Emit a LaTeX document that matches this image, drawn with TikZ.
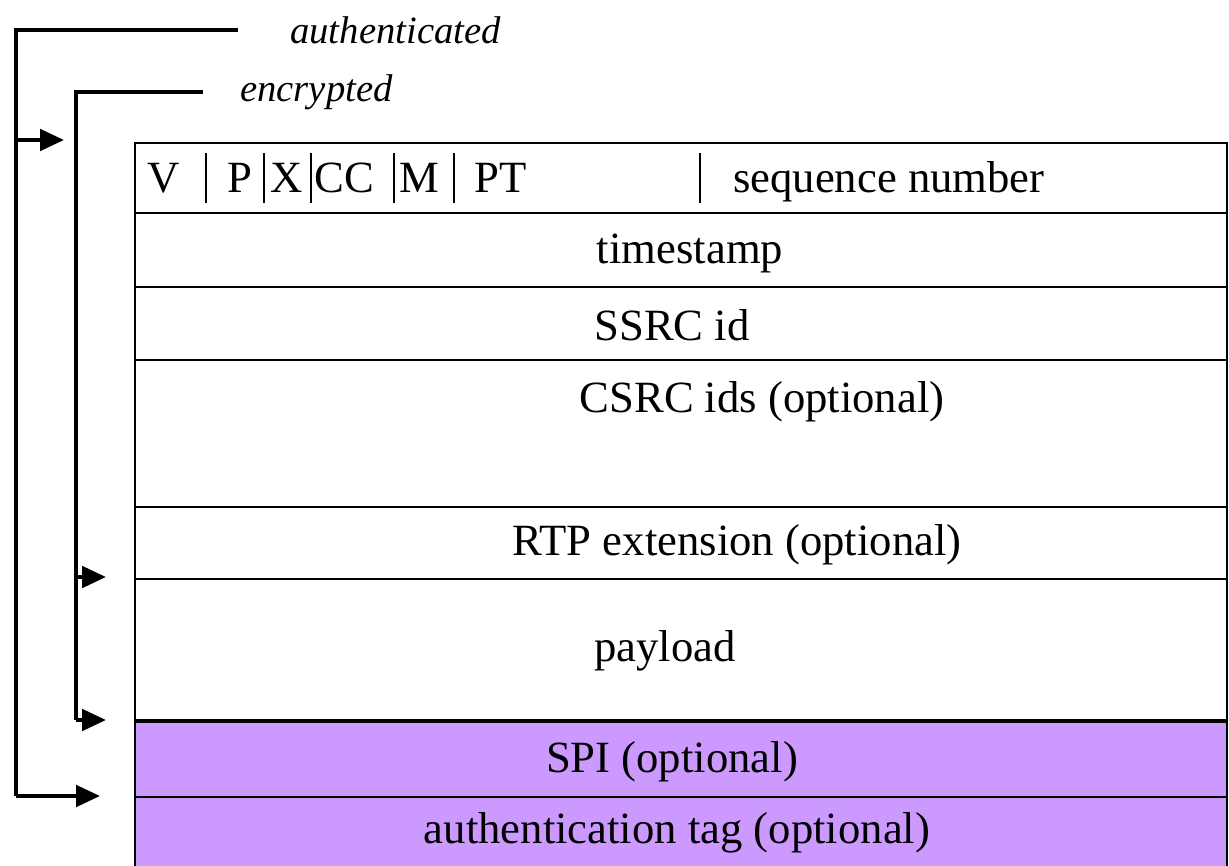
\documentclass[tikz,border=0pt]{standalone}
\usepackage{fontspec}
\setmainfont{Liberation Serif}
\usetikzlibrary{arrows.meta}
\definecolor{tagfill}{HTML}{CC99FF}
\begin{document}
\begin{tikzpicture}[x=0.75pt,y=-0.75pt,
  field/.style={font=\fontsize{33.5}{38}\selectfont, inner sep=0pt},
  rangelabel/.style={font=\fontsize{29}{34}\selectfont\itshape, inner sep=0pt},
  rowline/.style={line width=1.5pt},
  sepbar/.style={line width=1.2pt},
  bracket/.style={line width=3pt},
  pointer/.style={bracket, -{Triangle[length=18pt,width=16pt]}}]
\useasboundingbox (0,0) rectangle (1229,866);

% packet rows
\fill[tagfill] (135,721) rectangle (1227,880);
\draw[rowline] (135,880) -- (135,143) -- (1227,143) -- (1227,880);
\foreach \y in {213,287,360,507,579,797}
  \draw[rowline] (135,\y) -- (1227,\y);
\draw[line width=3pt] (135,721) -- (1227,721);

% header fields
\foreach \x in {206,264,311,394,454,700}
  \draw[sepbar] (\x,153) -- (\x,203);
\node[field, anchor=base] (v)  at (164,193) {V};
\node[field, anchor=base] (p)  at (240,193) {P};
\node[field, anchor=base] (x)  at (287,193) {X};
\node[field, anchor=base] (cc) at (344,193) {CC};
\node[field, anchor=base] (m)  at (419,193) {M};
\node[field, anchor=base] (pt) at (501,193) {PT};
\node[field, anchor=base west] (seq) at (733,193) {sequence number};

% remaining rows
\node[field] (ts)   at (690,253) {timestamp};
\node[field] (ssrc) at (672,325) {SSRC id};
\node[field] (csrc) at (762,402) {CSRC ids (optional)};
\node[field] (ext)  at (737,545) {RTP extension (optional)};
\node[field] (pay)  at (665,651) {payload};
\node[field] (spi)  at (672,762) {SPI (optional)};
\node[field] (tag)  at (677,833) {authentication tag (optional)};

% coverage brackets
\node[rangelabel, anchor=west] (auth) at (290,30) {authenticated};
\node[rangelabel, anchor=west] (enc)  at (240,92) {encrypted};
\coordinate (authend) at (238,30);
\coordinate (authtop) at (16,30);
\coordinate (authmid) at (16,140);
\coordinate (authbot) at (16,796);
\coordinate (authin)  at (64,140);
\coordinate (authout) at (100,796);
\coordinate (encend) at (203,92);
\coordinate (enctop) at (76,92);
\coordinate (encmid) at (76,577);
\coordinate (encbot) at (76,720);
\coordinate (encin)  at (106,577);
\coordinate (encout) at (106,720);

\draw[bracket] (authend) -- (authtop) -- (authbot);
\draw[pointer] (authmid) -- (authin);
\draw[pointer] (authbot) -- (authout);
\draw[bracket] (encend) -- (enctop) -- (encbot);
\draw[pointer] (encmid) -- (encin);
\draw[pointer] (encbot) -- (encout);
\end{tikzpicture}
\end{document}
